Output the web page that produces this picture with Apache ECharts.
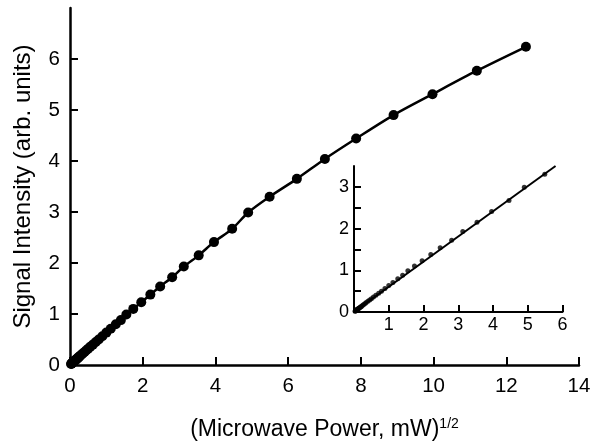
<!DOCTYPE html>
<html>
<head>
<meta charset="utf-8">
<script src="https://cdn.jsdelivr.net/npm/echarts@6/dist/echarts.min.js"></script>
<style>html,body{margin:0;padding:0;background:#fff}#c{width:600px;height:447px}</style>
</head>
<body>
<div id="c"></div>
<script>
// (Microwave Power, mW)^1/2
var powerRoot = [0.03,0.04,0.05,0.06,0.07,0.08,0.09,0.10,0.11,0.13,0.14,0.16,0.18,0.20,0.22,0.25,
  0.28,0.32,0.35,0.40,0.45,0.50,0.56,0.63,0.71,0.79,0.89,1.00,1.12,1.26,1.40,1.55,
  1.74,1.96,2.21,2.48,2.81,3.13,3.54,3.96,4.46,4.90,5.49,6.24,7.01,7.87,8.90,9.97,11.19,12.54];
// Signal Intensity (arb. units)
var signal = [0.02,0.025,0.03,0.04,0.045,0.05,0.058,0.065,0.07,0.083,0.09,0.10,0.115,0.128,0.14,0.16,
  0.18,0.205,0.225,0.255,0.29,0.32,0.36,0.40,0.45,0.50,0.565,0.635,0.71,0.80,0.88,0.99,
  1.10,1.23,1.38,1.54,1.72,1.93,2.15,2.41,2.67,2.99,3.30,3.65,4.04,4.44,4.90,5.31,5.77,6.24];
// inset linear fit line
var fitX = [0, 5.8];
var fitY = [0, 3.5];
// tick labels
var mainXTicks = [0,2,4,6,8,10,12,14];
var mainYTicks = [0,1,2,3,4,5,6];
var insetXTicks = [1,2,3,4,5,6];
var insetYTicks = [0,0.5,1,1.5,2,2.5,3];
var insetYLabels = [0,1,2,3];
var insetLimit = 5.5;

var mainData = powerRoot.map(function(x,i){return [x, signal[i]];});
var insetData = mainData.filter(function(p){return p[0] <= insetLimit;});
var fitData = fitX.map(function(x,i){return [x, fitY[i]];});

var FONT = 'Liberation Sans, Arial, sans-serif';
var chart = echarts.init(document.getElementById('c'), null, {renderer:'canvas'});
chart.setOption({
  animation:false,
  backgroundColor:'#fff',
  grid:[
    {left:70, top:8, right:21, bottom:82},
    {left:354, top:166, right:37.5, bottom:135}
  ],
  xAxis:[
    {gridIndex:0, type:'value', min:0, max:14,
     name:'(Microwave Power, mW){sup|1/2}', nameLocation:'middle', nameGap:52,
     nameTextStyle:{fontFamily:FONT, fontSize:23, color:'#000',
       rich:{sup:{fontFamily:FONT, fontSize:14, color:'#000', verticalAlign:'top', padding:[0,0,11,0]}}},
     axisLine:{lineStyle:{color:'#000', width:2.5}},
     axisTick:{inside:true, length:8, lineStyle:{color:'#000', width:2}, customValues:mainXTicks},
     axisLabel:{customValues:mainXTicks, fontFamily:FONT, fontSize:20.5, color:'#000', margin:11},
     splitLine:{show:false}},
    {gridIndex:1, type:'value', min:0, max:6,
     axisLine:{lineStyle:{color:'#000', width:2}},
     axisTick:{inside:true, length:7, lineStyle:{color:'#000', width:2}, customValues:insetXTicks},
     axisLabel:{customValues:insetXTicks, fontFamily:FONT, fontSize:18, color:'#000', margin:4},
     splitLine:{show:false}},
  ],
  yAxis:[
    {gridIndex:0, type:'value', min:0, max:7,
     name:'Signal Intensity (arb. units)', nameLocation:'middle', nameGap:35,
     nameTextStyle:{fontFamily:FONT, fontSize:24, color:'#000'},
     axisLine:{lineStyle:{color:'#000', width:2.5}},
     axisTick:{inside:true, length:8, lineStyle:{color:'#000', width:2}, customValues:mainYTicks},
     axisLabel:{customValues:mainYTicks, fontFamily:FONT, fontSize:20.5, color:'#000', margin:10},
     splitLine:{show:false}},
    {gridIndex:1, type:'value', min:0, max:3.5,
     axisLine:{lineStyle:{color:'#000', width:2}},
     axisTick:{inside:true, length:7, lineStyle:{color:'#000', width:2}, customValues:insetYTicks},
     axisLabel:{customValues:insetYLabels, fontFamily:FONT, fontSize:18, color:'#000', margin:5},
     splitLine:{show:false}}
  ],
  series:[
    {type:'line', xAxisIndex:0, yAxisIndex:0, data:mainData, smooth:0.3,
     symbol:'circle', symbolSize:10, itemStyle:{color:'#000'},
     lineStyle:{color:'#000', width:2.5}, z:3},
    {type:'line', xAxisIndex:1, yAxisIndex:1, data:fitData,
     symbol:'none', lineStyle:{color:'#000', width:2}, z:3},
    {type:'scatter', xAxisIndex:1, yAxisIndex:1, data:insetData,
     symbol:'circle', symbolSize:5, itemStyle:{color:'#000'}, z:4}
  ]
});
</script>
</body>
</html>
